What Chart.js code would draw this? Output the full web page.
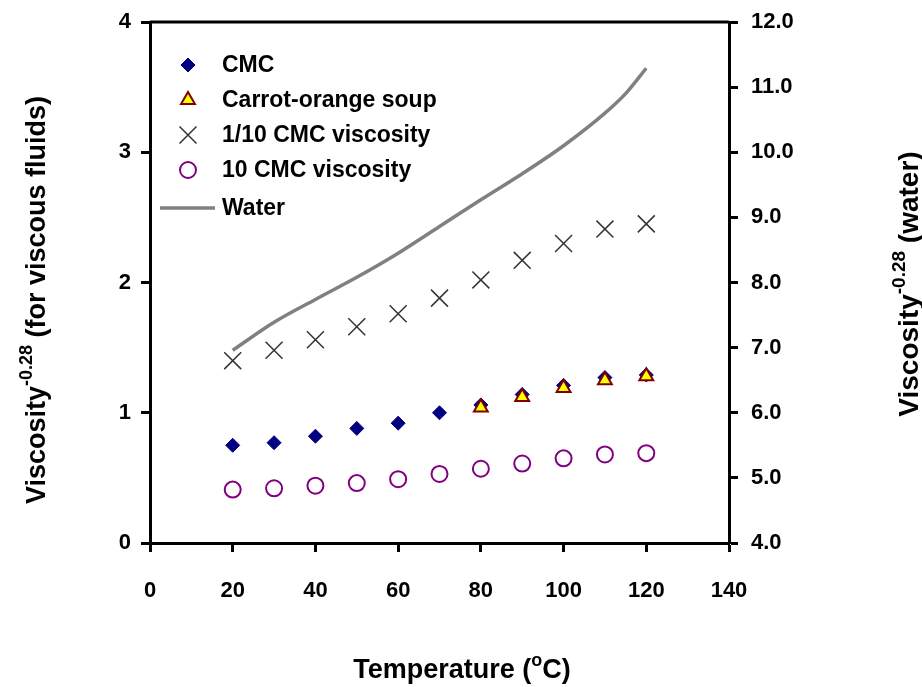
<!DOCTYPE html>
<html>
<head>
<meta charset="utf-8">
<script src="https://cdn.jsdelivr.net/npm/chart.js@4/dist/chart.umd.min.js"></script>
<style>
  html, body { margin: 0; padding: 0; background: #fff; }
  #wrap { width: 922px; height: 687px; position: relative; }
</style>
</head>
<body>
<div id="wrap"><canvas id="chart"></canvas></div>
<script>
// temperatures (°C) at which the fluids were measured
const temps = [20, 30, 40, 50, 60, 70, 80, 90, 100, 110, 120];
const cmc = [0.75, 0.77, 0.82, 0.88, 0.92, 1.00, 1.06, 1.14, 1.21, 1.27, 1.29];
const soupTemps = [80, 90, 100, 110, 120];
const soup = [1.04, 1.12, 1.19, 1.25, 1.28];
const cmcTenth = [1.40, 1.48, 1.56, 1.66, 1.76, 1.88, 2.02, 2.17, 2.30, 2.41, 2.45];
const cmcTen = [0.41, 0.42, 0.44, 0.46, 0.49, 0.53, 0.57, 0.61, 0.65, 0.68, 0.69];

// water curve, read against the right axis
const waterTemps = [20, 30, 40, 50, 60, 70, 80, 90, 100, 110, 115, 120];
const water = [6.96, 7.39, 7.74, 8.08, 8.45, 8.86, 9.27, 9.67, 10.10, 10.60, 10.90, 11.29];

const xTicks = [0, 20, 40, 60, 80, 100, 120, 140];
const leftTicks = [0, 1, 2, 3, 4];
const rightTicks = [4, 5, 6, 7, 8, 9, 10, 11, 12];

const FONT = '"Liberation Sans", Arial, sans-serif';

function pts(xs, ys) {
    return xs.map((x, i) => ({ x: x, y: ys[i] }));
}

// draws text made of pieces, some of them raised (superscript)
function drawParts(ctx, parts, x, y, align) {
    let total = 0;
    parts.forEach(p => {
        ctx.font = 'bold ' + p.size + 'px ' + FONT;
        total += ctx.measureText(p.text).width;
    });
    let cx = align === 'center' ? x - total / 2 : x;
    parts.forEach(p => {
        ctx.font = 'bold ' + p.size + 'px ' + FONT;
        ctx.fillText(p.text, cx, y - (p.rise || 0));
        cx += ctx.measureText(p.text).width;
    });
}

const decorPlugin = {
    id: 'decor',
    afterDraw(chart) {
        const ctx = chart.ctx;
        const area = chart.chartArea;
        ctx.save();

        // top frame line
        ctx.strokeStyle = '#000';
        ctx.lineWidth = 3;
        ctx.beginPath();
        ctx.moveTo(area.left, area.top);
        ctx.lineTo(area.right, area.top);
        ctx.stroke();

        // legend
        const rows = [65, 100, 135, 170, 208];
        const markX = 188, textX = 222;
        ctx.textBaseline = 'middle';
        ctx.textAlign = 'left';
        chart.data.datasets.forEach((ds, i) => {
            const y = rows[i];
            if (ds.showLine) {
                ctx.strokeStyle = ds.borderColor;
                ctx.lineWidth = ds.borderWidth;
                ctx.beginPath();
                ctx.moveTo(160, y);
                ctx.lineTo(215, y);
                ctx.stroke();
            } else {
                ctx.fillStyle = ds.pointBackgroundColor;
                ctx.strokeStyle = ds.pointBorderColor;
                ctx.lineWidth = ds.pointBorderWidth;
                Chart.helpers.drawPoint(ctx, {
                    pointStyle: ds.pointStyle,
                    radius: ds.pointRadius,
                    rotation: 0,
                    borderWidth: ds.pointBorderWidth
                }, markX, y);
            }
            ctx.fillStyle = '#000';
            ctx.font = 'bold 23px ' + FONT;
            ctx.fillText(ds.label, textX, y + 1);
        });

        // axis titles
        ctx.fillStyle = '#000';
        ctx.textBaseline = 'alphabetic';
        drawParts(ctx, [
            { text: 'Temperature (', size: 27 },
            { text: 'o', size: 18, rise: 12 },
            { text: 'C)', size: 27 }
        ], 462, 678, 'center');

        ctx.save();
        ctx.translate(45, 300);
        ctx.rotate(-Math.PI / 2);
        drawParts(ctx, [
            { text: 'Viscosity', size: 27 },
            { text: '-0.28', size: 18, rise: 13 },
            { text: ' (for viscous fluids)', size: 27 }
        ], 0, 0, 'center');
        ctx.restore();

        ctx.save();
        ctx.translate(918, 284);
        ctx.rotate(-Math.PI / 2);
        drawParts(ctx, [
            { text: 'Viscosity', size: 28 },
            { text: '-0.28', size: 19, rise: 13 },
            { text: ' (water)', size: 28 }
        ], 0, 0, 'center');
        ctx.restore();

        ctx.restore();
    }
};

const tickFont = { family: FONT, size: 22, weight: 'bold' };

const axisGrid = {
    display: true,
    drawOnChartArea: false,
    drawTicks: true,
    tickLength: 9,
    tickWidth: 3,
    tickColor: '#000'
};

// fixed box size for a vertical axis, without label padding pushing the plot down
function fixVertical(width) {
    return s => {
        s.width = width;
        s.paddingTop = 0;
        s.paddingBottom = 0;
    };
}

new Chart(document.getElementById('chart'), {
    type: 'scatter',
    data: {
        datasets: [
            {
                label: 'CMC',
                data: pts(temps, cmc),
                yAxisID: 'y',
                pointStyle: 'rectRot',
                pointRadius: 7,
                pointBackgroundColor: '#000080',
                pointBorderColor: '#000080',
                pointBorderWidth: 1,
                order: 2
            },
            {
                label: 'Carrot-orange soup',
                data: pts(soupTemps, soup),
                yAxisID: 'y',
                pointStyle: 'triangle',
                pointRadius: 8,
                pointBackgroundColor: '#ffff00',
                pointBorderColor: '#800000',
                pointBorderWidth: 2,
                order: 1
            },
            {
                label: '1/10 CMC viscosity',
                data: pts(temps, cmcTenth),
                yAxisID: 'y',
                pointStyle: 'crossRot',
                pointRadius: 12,
                pointBackgroundColor: '#333333',
                pointBorderColor: '#333333',
                pointBorderWidth: 1.5,
                order: 3
            },
            {
                label: '10 CMC viscosity',
                data: pts(temps, cmcTen),
                yAxisID: 'y',
                pointStyle: 'circle',
                pointRadius: 8,
                pointBackgroundColor: '#ffffff',
                pointBorderColor: '#800080',
                pointBorderWidth: 2,
                order: 4
            },
            {
                label: 'Water',
                data: pts(waterTemps, water),
                yAxisID: 'yWater',
                showLine: true,
                borderColor: '#808080',
                borderWidth: 3.5,
                pointRadius: 0,
                cubicInterpolationMode: 'monotone',
                order: 5
            }
        ]
    },
    options: {
        responsive: true,
        maintainAspectRatio: false,
        animation: false,
        layout: { padding: { top: 22, left: 0, right: 0, bottom: 0 } },
        plugins: {
            legend: { display: false },
            tooltip: { enabled: false }
        },
        scales: {
            x: {
                type: 'linear',
                position: 'bottom',
                min: 0,
                max: 140,
                afterBuildTicks: s => { s.ticks = xTicks.map(v => ({ value: v })); },
                ticks: { font: tickFont, color: '#000', padding: 26, maxRotation: 0 },
                grid: axisGrid,
                border: { display: true, color: '#000', width: 3 },
                afterFit: s => { s.height = 144; }
            },
            y: {
                type: 'linear',
                position: 'left',
                min: 0,
                max: 4,
                afterBuildTicks: s => { s.ticks = leftTicks.map(v => ({ value: v })); },
                ticks: { font: tickFont, color: '#000', padding: 10 },
                grid: axisGrid,
                border: { display: true, color: '#000', width: 3 },
                afterFit: fixVertical(150)
            },
            yWater: {
                type: 'linear',
                position: 'right',
                min: 4,
                max: 12,
                afterBuildTicks: s => { s.ticks = rightTicks.map(v => ({ value: v })); },
                ticks: {
                    font: tickFont,
                    color: '#000',
                    padding: 13,
                    callback: v => v.toFixed(1)
                },
                grid: axisGrid,
                border: { display: true, color: '#000', width: 3 },
                afterFit: fixVertical(193)
            }
        }
    },
    plugins: [decorPlugin]
});
</script>
</body>
</html>
